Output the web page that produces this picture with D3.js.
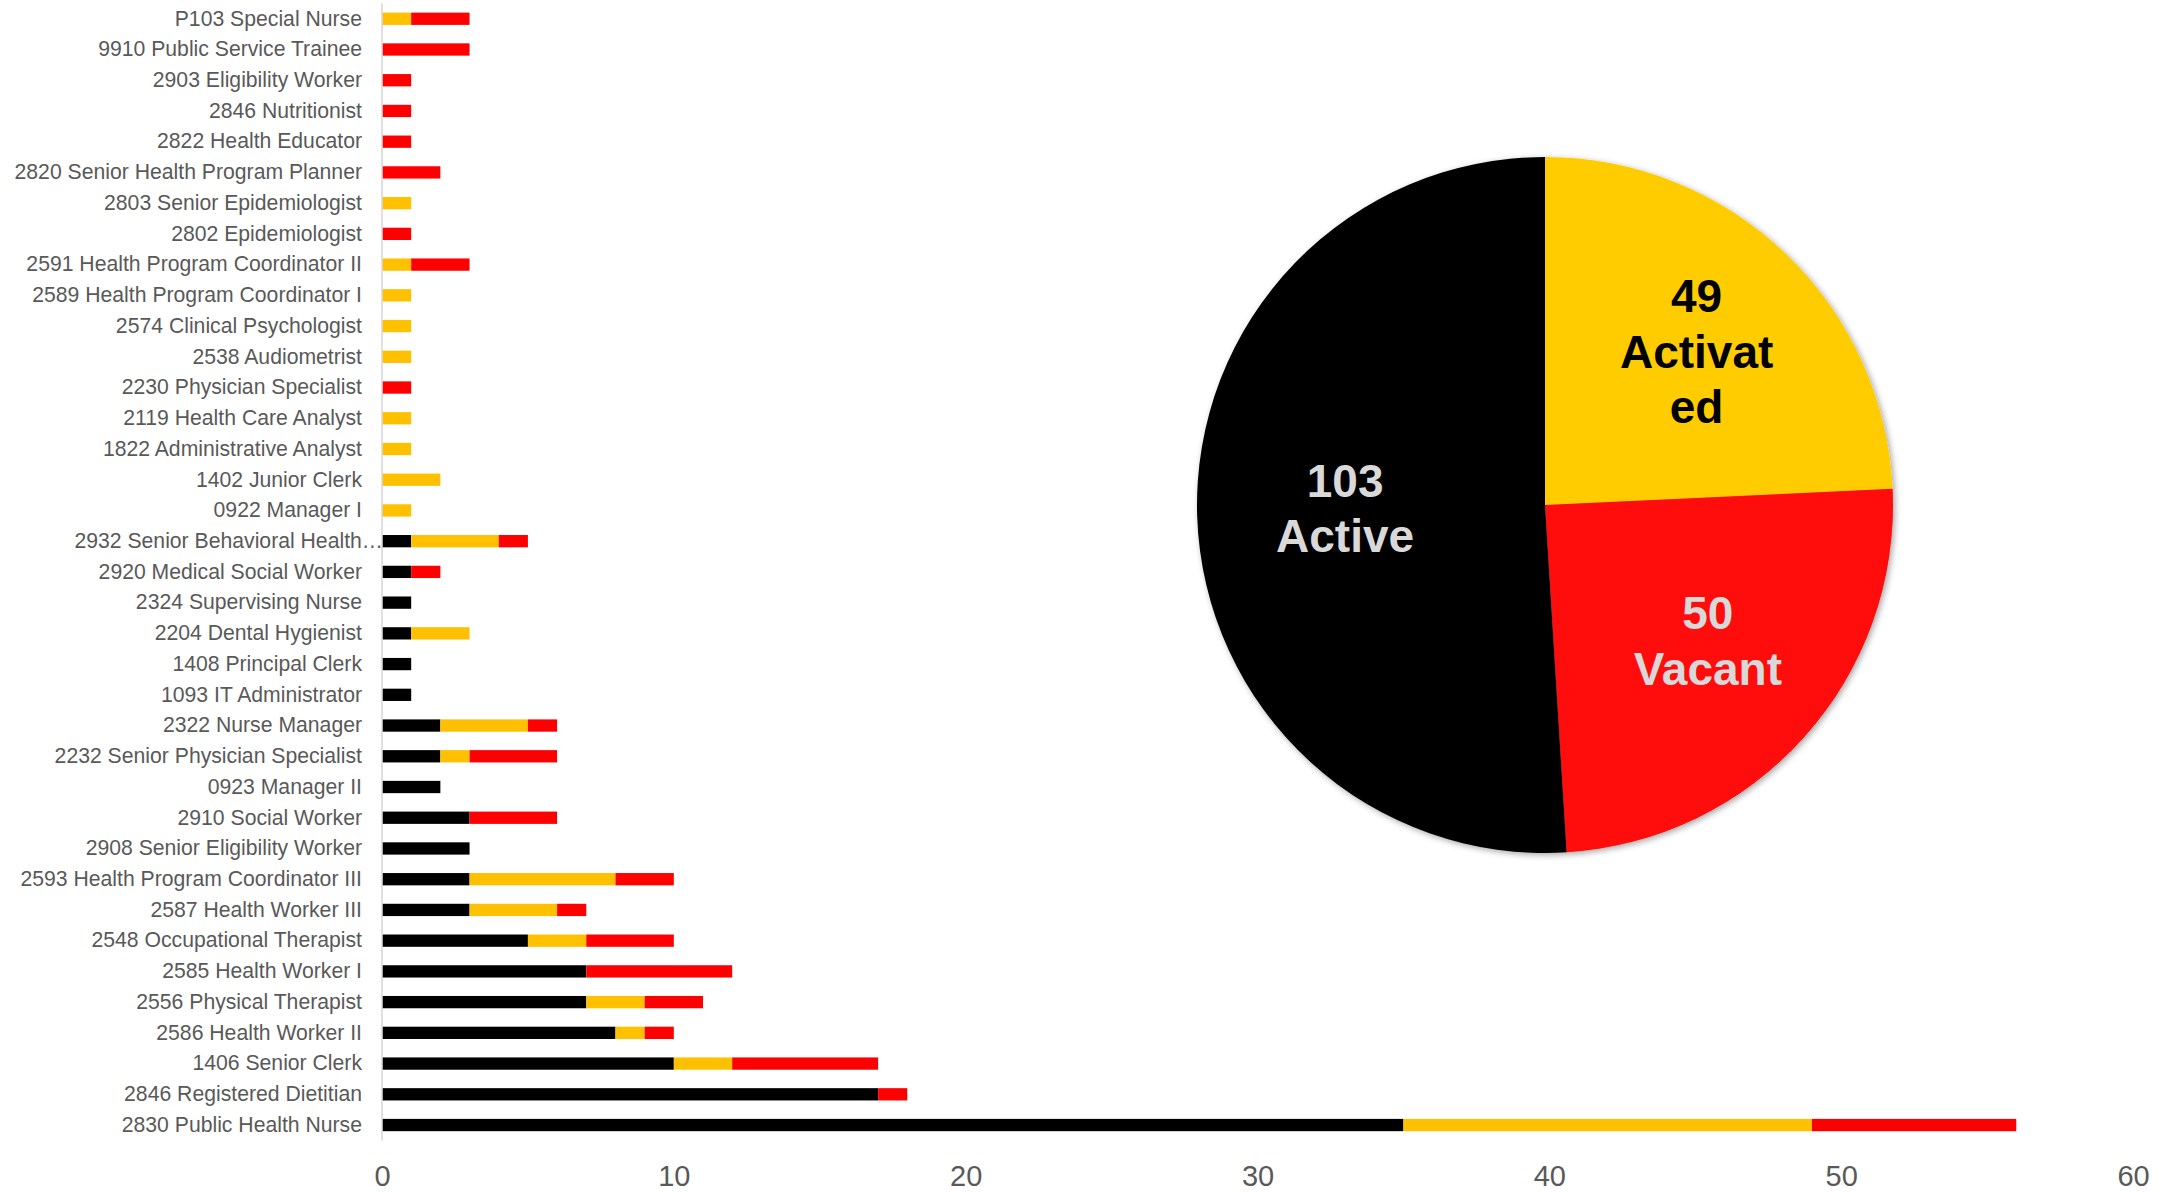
<!DOCTYPE html>
<html>
<head>
<meta charset="utf-8">
<script src="https://cdn.jsdelivr.net/npm/d3@7"></script>
<style>
  html, body { margin: 0; padding: 0; background: #ffffff; }
  svg { display: block; font-family: "Liberation Sans", Arial, sans-serif; }
</style>
</head>
<body>
<svg id="chart" width="2178" height="1192"></svg>
<script>
// ---------- data ----------
const categories = [
  "P103 Special Nurse",
  "9910 Public Service Trainee",
  "2903 Eligibility Worker",
  "2846 Nutritionist",
  "2822 Health Educator",
  "2820 Senior Health Program Planner",
  "2803 Senior Epidemiologist",
  "2802 Epidemiologist",
  "2591 Health Program Coordinator II",
  "2589 Health Program Coordinator I",
  "2574 Clinical Psychologist",
  "2538 Audiometrist",
  "2230 Physician Specialist",
  "2119 Health Care Analyst",
  "1822 Administrative Analyst",
  "1402 Junior Clerk",
  "0922 Manager I",
  "2932 Senior Behavioral Health\u2026",
  "2920 Medical Social Worker",
  "2324 Supervising Nurse",
  "2204 Dental Hygienist",
  "1408 Principal Clerk",
  "1093 IT Administrator",
  "2322 Nurse Manager",
  "2232 Senior Physician Specialist",
  "0923 Manager II",
  "2910 Social Worker",
  "2908 Senior Eligibility Worker",
  "2593 Health Program Coordinator III",
  "2587 Health Worker III",
  "2548 Occupational Therapist",
  "2585 Health Worker I",
  "2556 Physical Therapist",
  "2586 Health Worker II",
  "1406 Senior Clerk",
  "2846 Registered Dietitian",
  "2830 Public Health Nurse"
];
const active    = [0,0,0,0,0,0,0,0,0,0,0,0,0,0,0,0,0, 1,1,1,1,1,1, 2,2,2, 3,3,3,3, 5,7,7,8,10,17,35];
const activated = [1,0,0,0,0,0,1,0,1,1,1,1,0,1,1,2,1, 3,0,0,2,0,0, 3,1,0, 0,0,5,3, 2,0,2,1,2,0,14];
const vacant    = [2,3,1,1,1,2,0,1,2,0,0,0,1,0,0,0,0, 1,1,0,0,0,0, 1,3,0, 3,0,2,1, 3,5,2,1,5,1,7];
const seriesKeys = ["Active", "Activated", "Vacant"];
const xTicks = [0, 10, 20, 30, 40, 50, 60];

const pieNames = ["Activated", "Vacant", "Active"];
const pieValues = [49, 50, 103];
const pieNameLines = [["Activat", "ed"], ["Vacant"], ["Active"]];

// ---------- styles ----------
const barColors = { "Active": "#000000", "Activated": "#FFC000", "Vacant": "#FF0000" };
const pieColors = { "Activated": "#FFCC02", "Vacant": "#FF0808", "Active": "#050505" };
const pieTextColors = { "Activated": "#000000", "Vacant": "#D9D9D9", "Active": "#D9D9D9" };

const svg = d3.select("#chart");

// ---------- bar chart ----------
const rows = categories.map((c, i) => ({
  category: c, "Active": active[i], "Activated": activated[i], "Vacant": vacant[i]
}));

const x = d3.scaleLinear().domain([0, 60]).range([382, 2133]);
const y = d3.scaleBand().domain(categories).range([3.4, 1140.4])
  .paddingInner(0.6).paddingOuter(0.3);

const stacked = d3.stack().keys(seriesKeys)(rows);

svg.append("g")
  .selectAll("g")
  .data(stacked)
  .join("g")
  .attr("fill", d => barColors[d.key])
  .selectAll("rect")
  .data(d => d)
  .join("rect")
  .attr("x", d => x(d[0]))
  .attr("y", d => y(d.data.category))
  .attr("width", d => Math.max(0, x(d[1]) - x(d[0])))
  .attr("height", y.bandwidth());

const yAxis = svg.append("g")
  .attr("transform", `translate(${x(0)},0)`)
  .call(d3.axisLeft(y).tickSize(0).tickPadding(20));
yAxis.select(".domain").remove();
yAxis.selectAll("text")
  .attr("fill", "#595959")
  .style("font-size", "21.2px")
  .style("font-family", "'Liberation Sans', Arial, sans-serif")
  .attr("dx", d => d.endsWith("\u2026") ? 21 : 0);

svg.append("line")
  .attr("x1", x(0)).attr("x2", x(0))
  .attr("y1", y.range()[0]).attr("y2", y.range()[1])
  .attr("stroke", "#D9D9D9").attr("stroke-width", 1.6);

const xAxis = svg.append("g")
  .attr("transform", `translate(0,${y.range()[1]})`)
  .call(d3.axisBottom(x).tickValues(xTicks).tickSize(0).tickPadding(25));
xAxis.select(".domain").remove();
xAxis.selectAll("text")
  .attr("fill", "#595959")
  .style("font-size", "29px")
  .style("font-family", "'Liberation Sans', Arial, sans-serif");

// ---------- pie ----------
const cx = 1545, cy = 505, R = 348;
const defs = svg.append("defs");
const f = defs.append("filter").attr("id", "shadow")
  .attr("x", "-10%").attr("y", "-10%").attr("width", "120%").attr("height", "120%");
f.append("feDropShadow").attr("dx", 2).attr("dy", 2).attr("stdDeviation", 3)
  .attr("flood-color", "#000").attr("flood-opacity", 0.35);

const pieData = pieNames.map((n, i) => ({ name: n, value: pieValues[i], lines: pieNameLines[i] }));
const pie = d3.pie().sort(null).value(d => d.value);
const arcs = pie(pieData);
const arc = d3.arc().innerRadius(0).outerRadius(R);
const labelArc = d3.arc().innerRadius(208).outerRadius(208);

const pg = svg.append("g").attr("transform", `translate(${cx},${cy})`);
pg.append("g").attr("filter", "url(#shadow)")
  .selectAll("path")
  .data(arcs)
  .join("path")
  .attr("d", arc)
  .attr("fill", d => pieColors[d.data.name]);

const lineH = 55.5;
const labels = pg.append("g")
  .selectAll("text")
  .data(arcs)
  .join("text")
  .attr("transform", d => {
    const [px, py] = labelArc.centroid(d);
    return `translate(${px + 8},${py - 3})`;
  })
  .attr("text-anchor", "middle")
  .attr("fill", d => pieTextColors[d.data.name])
  .style("font-size", "46px")
  .style("font-weight", "bold")
  .style("font-family", "'Liberation Sans', Arial, sans-serif");

labels.each(function(d) {
  const lines = [String(d.data.value)].concat(d.data.lines);
  const n = lines.length;
  const t = d3.select(this);
  lines.forEach((ln, i) => {
    t.append("tspan")
      .attr("x", 0)
      .attr("y", (i - (n - 1) / 2) * lineH + 16)
      .text(ln);
  });
});
</script>
</body>
</html>
